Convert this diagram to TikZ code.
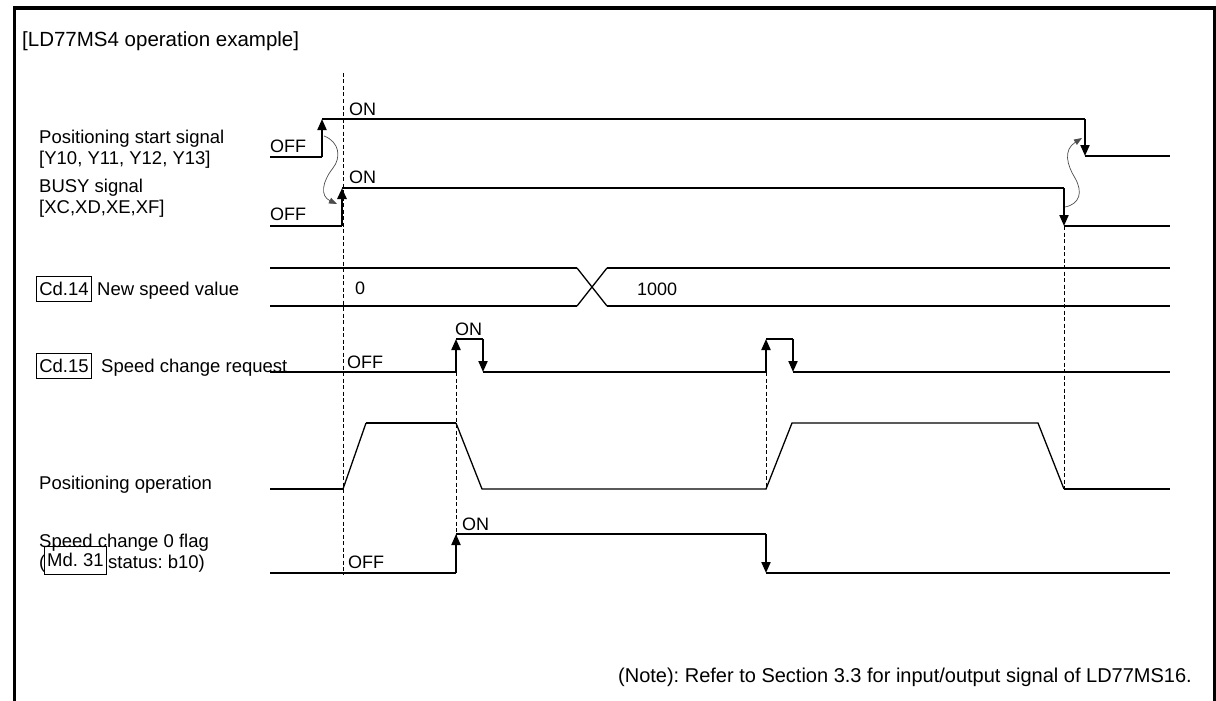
\documentclass[tikz,border=0pt]{standalone}
\usepackage{fontspec}
\setmainfont{Liberation Sans}
\usetikzlibrary{arrows.meta}
\frenchspacing
\begin{document}
\begin{tikzpicture}[x=1pt,y=-1pt,
  sig/.style={line width=2pt},
  thinsig/.style={line width=1.3pt},
  tip/.style={-{Triangle[length=11pt,width=9pt]}},
  guide/.style={line width=0.8pt, dash pattern=on 4pt off 2.5pt},
  lbl/.style={font=\fontsize{18.5}{21}\selectfont, anchor=base west, inner sep=0},
  lv/.style={font=\fontsize{18}{21}\selectfont, anchor=base west, inner sep=0},
  regbox/.style={draw, line width=0.9pt, font=\fontsize{18.5}{21}\selectfont, inner sep=0, minimum height=25pt, anchor=west},
  wavy/.style={line width=0.7pt, draw=black!70, -{Triangle[length=8pt,width=6pt]}}
]
\useasboundingbox (0,0) rectangle (1216,701);
% frame
\draw[line width=3.5pt] (14.5,701) -- (14.5,8) -- (1214.5,8) -- (1214.5,701);
\node[font=\fontsize{20.5}{24}\selectfont, anchor=base west, inner sep=0] (title) at (22,47) {[LD77MS4 operation example]};

% left labels
\node[lbl] (l1a) at (39,143) {Positioning start signal};
\node[lbl] (l1b) at (39,164) {[Y10, Y11, Y12, Y13]};
\node[lbl] (l2a) at (39,192) {BUSY signal};
\node[lbl] (l2b) at (39,213) {[XC,XD,XE,XF]};
\node[regbox, minimum width=55pt] (cd14) at (36,288.5) {Cd.14};
\node[lbl] (l3) at (97,295) {New speed value};
\node[regbox, minimum width=55pt] (cd15) at (36,365.5) {Cd.15};
\node[lbl] (l4) at (101,372) {Speed change request};
\node[lbl] (l5) at (39,489) {Positioning operation};
\node[lbl] (l6a) at (39,547) {Speed change 0 flag};
\node[lbl] (l6p) at (39,568) {(};
\node[regbox, minimum width=62pt, minimum height=28pt] (md31) at (44,560) {Md. 31};
\node[lbl] (l6b) at (108,568) {status: b10)};

% guide lines
\draw[guide] (343,73) -- (343,575);
\draw[guide] (456,372) -- (456,573);
\draw[guide] (766,372) -- (766,489);
\draw[guide] (1064,226) -- (1064,489);

% positioning start signal
\draw[sig] (270,157) -- (322,157);
\draw[sig,tip] (322,157) -- (322,119);
\draw[sig] (322,119) -- (1085,119);
\draw[sig,tip] (1085,119) -- (1085,156);
\draw[sig] (1085,156) -- (1170,156);
\node[lv] (on1) at (349,115) {ON};
\node[lv] (off1) at (270,152) {OFF};

% BUSY
\draw[sig] (270,226) -- (342,226);
\draw[line width=2.8pt,tip] (342,226) -- (342,188);
\draw[sig] (342,188) -- (1064,188);
\draw[sig,tip] (1064,188) -- (1064,226);
\draw[sig] (1064,226) -- (1170,226);
\node[lv] (on2) at (349,183) {ON};
\node[lv] (off2) at (270,220) {OFF};

% wavy arrows
\draw[wavy] (324,136) .. controls (340,142) and (341,158) .. (333,168) .. controls (322,182) and (320,196) .. (337,204);
\draw[wavy] (1065,207) .. controls (1080,204) and (1083,192) .. (1075,178) .. controls (1067,165) and (1063,150) .. (1082,138);

% Cd.14
\draw[sig] (270,268) -- (577,268);
\draw[thinsig] (577,268) -- (607,306);
\draw[sig] (607,306) -- (1170,306);
\draw[sig] (270,306) -- (577,306);
\draw[thinsig] (577,306) -- (607,268);
\draw[thinsig] (607,268) -- (1170,268);
\node[lv] (v0) at (355,294) {0};
\node[lv] (v1000) at (637,295) {1000};

% Cd.15
\draw[sig] (270,372) -- (456,372);
\draw[sig,tip] (456,372) -- (456,339);
\draw[sig] (456,339) -- (483,339);
\draw[sig,tip] (483,339) -- (483,372);
\draw[thinsig] (483,372) -- (766,372);
\draw[sig,tip] (766,372) -- (766,339);
\draw[sig] (766,339) -- (793,339);
\draw[sig,tip] (793,339) -- (793,372);
\draw[line width=2.3pt] (793,372) -- (1170,372);
\node[lv] (off3) at (347,368) {OFF};
\node[lv] (on3) at (455,335) {ON};

% positioning operation
\draw[sig] (270,489) -- (343,489);
\draw[thinsig] (343,489) -- (366,423);
\draw[sig] (366,423) -- (456,423);
\draw[thinsig] (456,423) -- (482,489) -- (766,489) -- (792,423) -- (1038,423) -- (1064,489);
\draw[sig] (1064,489) -- (1170,489);

% speed change 0 flag
\draw[thinsig] (270,573) -- (456,573);
\draw[sig,tip] (456,573) -- (456,534);
\draw[thinsig] (456,534) -- (766,534);
\draw[sig,tip] (766,534) -- (766,573);
\draw[sig] (766,573) -- (1170,573);
\node[lv] (on4) at (462,530) {ON};
\node[lv] (off4) at (348,568) {OFF};

% note
\node[font=\fontsize{20}{24}\selectfont, anchor=base east, inner sep=0] (note) at (1192,682) {(Note): Refer to Section 3.3 for input/output signal of LD77MS16.};
\end{tikzpicture}
\end{document}
